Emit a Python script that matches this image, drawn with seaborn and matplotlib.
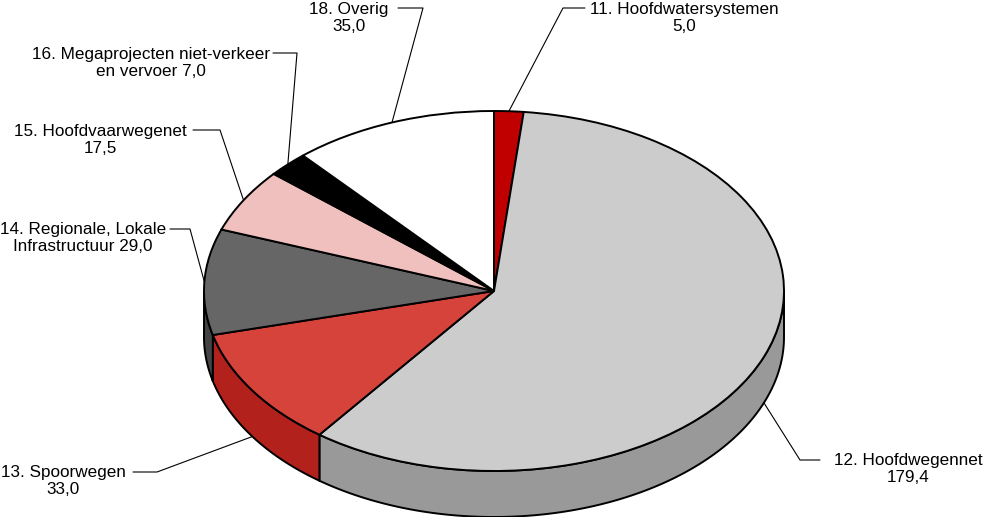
import numpy as np
import matplotlib
matplotlib.use("Agg")
import matplotlib.pyplot as plt
import seaborn as sns

# data
names = ["11. Hoofdwatersystemen\n", "12. Hoofdwegennet\n", "13. Spoorwegen\n",
         "14. Regionale, Lokale\nInfrastructuur ", "15. Hoofdvaarwegenet\n",
         "16. Megaprojecten niet-verkeer\nen vervoer ", "18. Overig\n"]
values = [5.0, 179.4, 33.0, 29.0, 17.5, 7.0, 35.0]
top_colors = ["#C00000", "#CCCCCC", "#D5433B", "#666666", "#F0C0BE", "#000000", "#FFFFFF"]
side_colors = ["#8A0000", "#999999", "#B3211D", "#444444", "#C89894", "#000000", "#DDDDDD"]

# layout (pixels, origin top-left)
CX, CY, RX, RY, DEPTH = 494, 291, 290, 180, 46
text_px = [(684, 18), (908, 469), (63, 481), (83, 238), (100, 140), (151, 63), (349, 18)]
hline_px = [(585, 563, 8), (820, 800, 460), (133, 157, 472), (170, 190, 229),
            (193, 220, 130), (273, 297, 53), (398, 423, 8)]


def px(x, y):
    return (x - CX) / RX, (CY - y) / RY


sns.set_theme(style="white")
plt.rcParams['font.family'] = ['Liberation Sans', 'DejaVu Sans']

fig = plt.figure(figsize=(9.84, 5.17), dpi=100)
ax = fig.add_axes([0, 0, 1, 1])
wedges, _ = ax.pie(values, colors=top_colors, startangle=90, counterclock=False, radius=1,
                   wedgeprops=dict(edgecolor="black", linewidth=1.4, zorder=3))

depth = DEPTH / RY
# side walls of the visible (front) half
for w, c in zip(wedges, side_colors):
    for k in (-360, 0, 360):
        a = max(w.theta1, -180 + k)
        b = min(w.theta2, k)
        if b > a:
            t = np.radians(np.linspace(a, b, 120))
            xs = np.cos(t)
            ys = np.sin(t)
            ax.fill(np.concatenate([xs, xs[::-1]]), np.concatenate([ys, ys[::-1] - depth]),
                    facecolor=c, edgecolor="black", linewidth=1.4, zorder=2)

# labels with leader lines
for w, name, v, (tx, ty), (x0, x1, ly) in zip(wedges, names, values, text_px, hline_px):
    label = name + f"{v:.1f}".replace(".", ",")
    ax.text(*px(tx, ty), label, ha="center", va="center", fontsize=12.3,
            linespacing=1.12, color="black")
    mid = np.radians((w.theta1 + w.theta2) / 2)
    ax_, ay_ = np.cos(mid), np.sin(mid)
    if ay_ < 0:
        ay_ -= depth
    p0 = px(x0, ly)
    p1 = px(x1, ly)
    ax.plot([p0[0], p1[0], ax_], [p0[1], p1[1], ay_], color="black", linewidth=0.8, zorder=4)

ax.set_aspect("auto")
ax.set_xlim(-CX / RX, (984 - CX) / RX)
ax.set_ylim(-(517 - CY) / RY, CY / RY)
ax.axis("off")
fig.savefig("out.png", dpi=100)
plt.close("all")
